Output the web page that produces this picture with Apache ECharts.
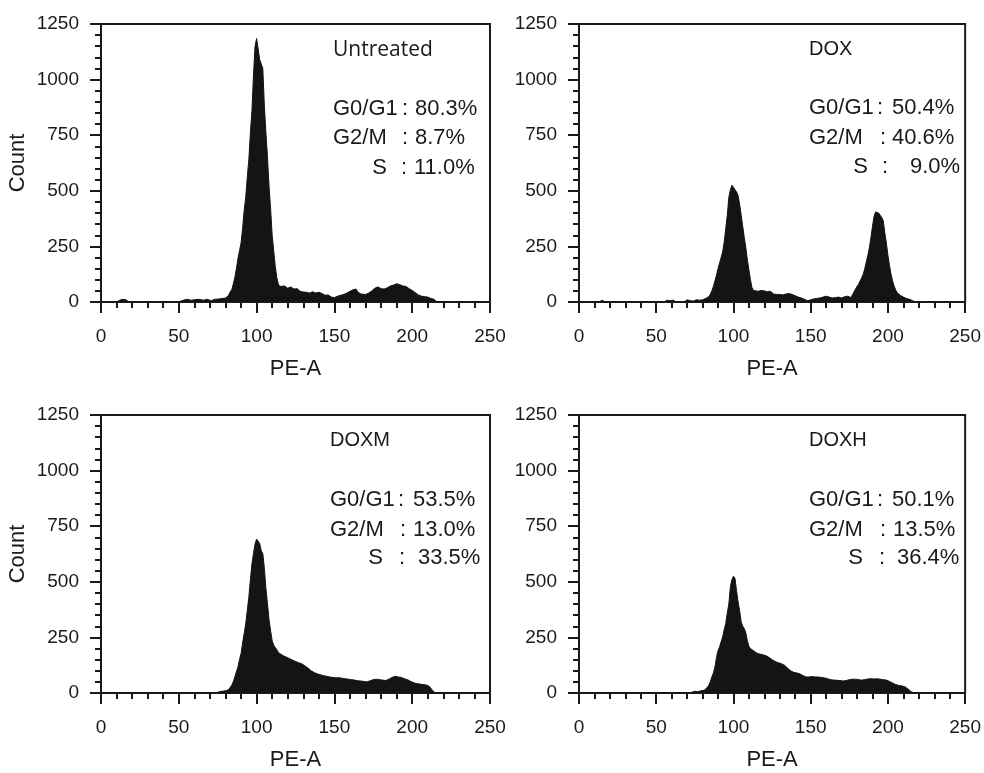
<!DOCTYPE html>
<html>
<head>
<meta charset="utf-8">
<script src="https://cdn.jsdelivr.net/npm/echarts@6/dist/echarts.min.js"></script>
<style>
html,body{margin:0;padding:0;background:#fff;}
#chart{width:984px;height:773px;}
</style>
</head>
<body>
<div id="chart"></div>
<script>
// ---- data ----
const xTicks = [0, 50, 100, 150, 200, 250];
const yTicks = [0, 250, 500, 750, 1000, 1250];
const panelTitles = ['Untreated', 'DOX', 'DOXM', 'DOXH'];
const phaseNames = ['G0/G1', 'G2/M', 'S'];
const untreatedPhases = ['80.3%', '8.7%', '11.0%'];
const doxPhases = ['50.4%', '40.6%', '9.0%'];
const doxmPhases = ['53.5%', '13.0%', '33.5%'];
const doxhPhases = ['50.1%', '13.5%', '36.4%'];

const untreatedX = [0,10,12,14,16,18,50,52,55,58,60,63,66,68,71,73,76,78,80,81,82,83,84,85,86,87,88,89,90,91,92,93,94,95,96,97,98,99,100,101,102,103,104,105,106,107,108,109,110,111,112,113,114,115,116,118,120,122,124,126,128,130,132,134,136,138,140,142,144,146,148,150,152,154,156,158,160,162,164,165,167,170,172,174,176,178,180,182,184,186,188,190,192,194,196,198,200,202,204,206,208,210,212,214,216,250];
const untreatedCount = [0,0,8,12,10,0,0,6,12,8,10,12,8,12,6,12,14,16,18,22,30,45,55,80,110,150,195,230,265,330,410,470,560,640,760,860,1020,1150,1185,1180,1090,1070,1050,880,760,650,520,420,300,230,160,110,80,70,65,72,62,68,58,60,48,45,44,40,46,40,44,38,30,32,22,20,26,30,34,40,48,55,58,45,36,34,40,50,62,68,60,58,64,72,76,82,78,72,70,60,52,42,32,26,24,22,16,12,0,0];

const doxX = [0,13,15,17,55,57,59,61,63,68,70,72,74,76,78,80,82,84,85,86,87,88,89,90,91,92,93,94,95,96,97,98,99,100,101,102,103,104,105,106,107,108,109,110,111,112,113,114,116,118,120,122,124,126,128,130,132,134,136,138,140,142,144,146,148,150,152,154,156,158,160,162,164,166,168,170,172,174,176,177,178,179,180,181,182,183,184,185,186,187,188,189,190,191,192,193,194,195,196,197,198,199,200,201,202,203,204,205,206,208,210,212,214,216,218,250];
const doxCount = [0,0,8,0,0,8,6,8,0,0,10,6,4,10,8,10,16,24,35,50,70,95,120,150,175,200,225,270,330,390,470,505,525,520,505,495,478,440,390,340,290,245,190,145,100,65,52,50,48,52,50,46,48,36,34,34,32,36,38,34,28,22,18,12,6,10,14,16,18,22,26,22,18,20,22,18,24,26,20,32,45,58,70,80,95,108,125,150,180,210,245,290,340,385,405,412,400,398,380,365,310,265,210,165,125,95,72,55,42,30,22,16,12,6,0,0];

const doxmX = [0,17,18,20,27,28,30,62,63,65,74,76,78,80,82,83,84,85,86,87,88,89,90,91,92,93,94,95,96,97,98,99,100,101,102,103,104,105,106,107,108,109,110,111,112,113,114,115,117,119,121,123,125,127,129,131,133,135,137,139,141,143,145,147,149,151,153,155,157,159,161,163,165,167,169,171,173,175,177,179,181,183,185,187,189,191,193,195,197,199,201,203,205,207,209,211,212,213,215,250];
const doxmCount = [0,0,6,0,0,6,0,0,6,0,0,6,8,10,15,22,35,50,72,95,117,150,177,225,267,310,370,430,510,580,627,670,692,685,672,640,627,560,470,400,330,280,235,215,205,195,182,175,168,162,155,148,142,136,132,122,112,100,92,86,82,78,75,72,70,68,69,66,64,62,60,58,55,54,52,50,55,60,62,60,58,56,62,70,75,72,70,64,60,52,46,42,40,38,36,30,22,12,0,0];

const doxhX = [0,70,71,73,75,77,79,81,82,83,84,85,86,87,88,89,90,91,92,93,94,95,96,97,98,99,100,101,102,103,104,105,106,107,108,109,110,111,112,113,115,117,119,121,123,125,127,129,131,133,135,137,139,141,143,145,147,149,151,153,155,157,159,161,163,165,167,169,171,173,175,177,179,181,183,185,187,189,191,193,195,197,199,201,203,205,207,209,211,213,215,217,250];
const doxhCount = [0,0,5,3,8,6,10,12,16,25,35,50,72,90,117,160,190,207,230,252,285,312,360,400,477,510,525,515,460,410,370,320,300,290,270,235,210,200,195,190,180,175,172,168,160,150,142,136,132,125,112,100,93,90,86,78,72,72,74,72,72,70,68,64,60,58,57,56,54,56,60,62,62,60,58,60,63,64,63,64,62,60,58,52,45,38,34,32,28,18,6,0,0];

const panelX = [untreatedX, doxX, doxmX, doxhX];
const panelCount = [untreatedCount, doxCount, doxmCount, doxhCount];
const panelPhases = [untreatedPhases, doxPhases, doxmPhases, doxhPhases];

// ---- layout ----
const grids = [
  {left: 101, top: 24, width: 389, height: 278},
  {left: 579, top: 24, width: 388, height: 278},
  {left: 101, top: 415, width: 389, height: 278},
  {left: 579, top: 415, width: 388, height: 278}
];
// annotation layout: title [x, y], rows: [nameX, nameAlign, colonX, valueX]
const annot = [
  {title: [333, 50], titleFont: '21px "Open Sans"', rowsY: [108.5, 138, 167.5],
   rows: [[333,'left',405,415],[333,'left',405,415],[387,'right',404,414]]},
  {title: [809, 49.5], titleFont: '20px "Liberation Sans"', rowsY: [108, 137.5, 166.5],
   rows: [[809,'left',880,892],[809,'left',883,892],[868,'right',885,910]]},
  {title: [330, 440.5], titleFont: '20px "Liberation Sans"', rowsY: [499.5, 529.5, 557.5],
   rows: [[330,'left',401,413],[330,'left',403,413],[383,'right',402,418]]},
  {title: [809, 440.5], titleFont: '20px "Liberation Sans"', rowsY: [499.5, 529.5, 557.5],
   rows: [[809,'left',880,892],[809,'left',883,893],[863,'right',882,897]]}
];

const ink = '#1a1a1a';
const font = 'Liberation Sans';

const option = {
  animation: false,
  backgroundColor: '#ffffff',
  grid: grids.map(g => Object.assign({show: true, borderColor: ink, borderWidth: 2, backgroundColor: 'transparent'}, g)),
  xAxis: grids.map((g, i) => ({
    type: 'value', gridIndex: i, min: xTicks[0], max: xTicks[xTicks.length - 1], interval: xTicks[1] - xTicks[0],
    name: 'PE-A', nameLocation: 'middle', nameGap: 56,
    nameTextStyle: {fontSize: 22, color: ink, fontFamily: font},
    axisLine: {show: true, onZero: false, lineStyle: {color: ink, width: 2}},
    axisTick: {show: true, length: 11, lineStyle: {color: ink, width: 2}},
    minorTick: {show: true, splitNumber: 5, length: 6, lineStyle: {color: ink, width: 2}},
    splitLine: {show: false},
    axisLabel: {fontSize: 19, color: ink, fontFamily: font, margin: 25, formatter: v => String(v)}
  })),
  yAxis: grids.map((g, i) => ({
    type: 'value', gridIndex: i, min: yTicks[0], max: yTicks[yTicks.length - 1], interval: yTicks[1] - yTicks[0],
    name: (i % 2 === 0) ? 'Count' : '', nameLocation: 'middle', nameGap: 72, nameRotate: 90,
    nameTextStyle: {fontSize: 22, color: ink, fontFamily: font},
    axisLine: {show: true, onZero: false, lineStyle: {color: ink, width: 2}},
    axisTick: {show: true, length: 11, lineStyle: {color: ink, width: 2}},
    minorTick: {show: true, splitNumber: 5, length: 6, lineStyle: {color: ink, width: 2}},
    splitLine: {show: false},
    axisLabel: {fontSize: 19, color: ink, fontFamily: font, margin: 22, formatter: v => String(v)}
  })),
  series: panelX.map((xs, i) => ({
    type: 'line', xAxisIndex: i, yAxisIndex: i,
    data: xs.map((x, k) => [x, panelCount[i][k]]),
    showSymbol: false, symbol: 'none', smooth: false, sampling: null,
    lineStyle: {color: '#141414', width: 1},
    areaStyle: {color: '#141414', opacity: 1},
    z: 1
  })),
  graphic: []
};

annot.forEach((a, i) => {
  option.graphic.push({type: 'text', x: a.title[0], y: a.title[1], z: 100,
    style: {text: panelTitles[i], font: a.titleFont, fill: ink, textAlign: 'left', textVerticalAlign: 'middle', align: 'left', verticalAlign: 'middle'}});
  a.rows.forEach((r, k) => {
    const y = a.rowsY[k];
    const f = '22px "Liberation Sans"';
    option.graphic.push({type: 'text', x: r[0], y: y, z: 100,
      style: {text: phaseNames[k], font: f, fill: ink, textAlign: r[1], textVerticalAlign: 'middle', align: r[1], verticalAlign: 'middle'}});
    option.graphic.push({type: 'text', x: r[2], y: y, z: 100,
      style: {text: ':', font: f, fill: ink, textAlign: 'center', textVerticalAlign: 'middle', align: 'center', verticalAlign: 'middle'}});
    option.graphic.push({type: 'text', x: r[3], y: y, z: 100,
      style: {text: panelPhases[i][k], font: f, fill: ink, textAlign: 'left', textVerticalAlign: 'middle', align: 'left', verticalAlign: 'middle'}});
  });
});

const chart = echarts.init(document.getElementById('chart'), null, {renderer: 'canvas'});
chart.setOption(option);
</script>
</body>
</html>
